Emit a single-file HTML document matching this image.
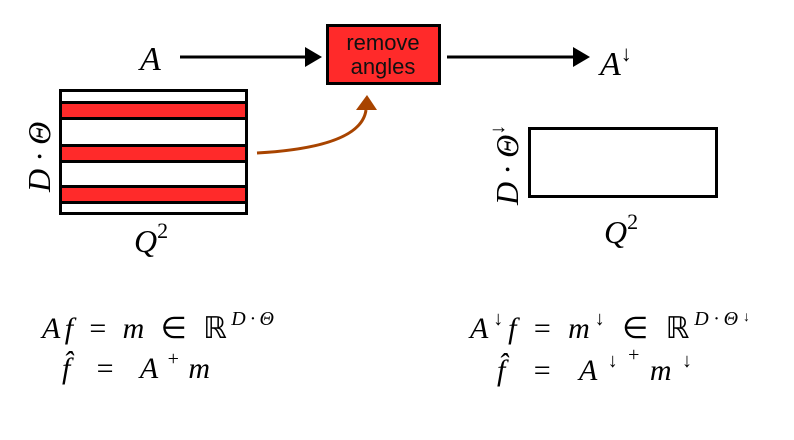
<!DOCTYPE html>
<html><head><meta charset="utf-8"><style>
body{margin:0;background:#fff;width:794px;height:435px;overflow:hidden}
svg text{font-family:"Liberation Serif",serif}
.i{font-style:italic}
</style></head><body>
<svg width="794" height="435" viewBox="0 0 794 435">
<g>
<rect x="60.5" y="90.5" width="186" height="123" fill="#fff" stroke="#000" stroke-width="3"/>
<rect x="60.5" y="102.5" width="186" height="16" fill="#ff2a2a" stroke="#000" stroke-width="3"/>
<rect x="60.5" y="145.5" width="186" height="16" fill="#ff2a2a" stroke="#000" stroke-width="3"/>
<rect x="60.5" y="186.5" width="186" height="16" fill="#ff2a2a" stroke="#000" stroke-width="3"/>
</g>
<text class="i" font-size="32" transform="translate(50,192) rotate(-90)">D · Θ</text>
<text class="i" font-size="32" x="134" y="252">Q<tspan font-size="22" dy="-14" font-style="normal">2</tspan></text>
<text class="i" font-size="34" x="140" y="70">A</text>
<g>
<line x1="180" y1="57" x2="308" y2="57" stroke="#000" stroke-width="3"/>
<polygon points="305,47 322,57 305,67" fill="#000"/>
</g>
<g>
<rect x="327.5" y="25.5" width="112" height="58" fill="#ff2a2a" stroke="#000" stroke-width="3"/>
<text x="383" y="50" font-size="22" text-anchor="middle" style="font-family:'Liberation Sans',sans-serif" fill="#111">remove</text>
<text x="383" y="74" font-size="22" text-anchor="middle" style="font-family:'Liberation Sans',sans-serif" fill="#111">angles</text>
</g>
<g>
<line x1="447" y1="57" x2="575" y2="57" stroke="#000" stroke-width="3"/>
<polygon points="573,47 590,57 573,67" fill="#000"/>
</g>
<text class="i" font-size="34" x="600" y="75">A<tspan font-size="22" dy="-14" font-style="normal">↓</tspan></text>
<g>
<path d="M257,153 C310,150 362,140 366,110" fill="none" stroke="#a84400" stroke-width="3"/>
<polygon points="356,110 367,95 377,110" fill="#a84400"/>
</g>
<rect x="529.5" y="128.5" width="187" height="68" fill="#fff" stroke="#000" stroke-width="3"/>
<text class="i" font-size="32" transform="translate(518,205) rotate(-90)">D · Θ<tspan font-size="20" dy="-14" font-style="normal">↓</tspan></text>
<text class="i" font-size="32" x="604" y="243">Q<tspan font-size="22" dy="-14" font-style="normal">2</tspan></text>
<g font-size="30">
<text x="42" y="338" textLength="232" lengthAdjust="spacing"><tspan class="i">Af</tspan> = <tspan class="i">m</tspan> ∈ ℝ<tspan font-size="20" dy="-13" class="i">D·Θ</tspan></text>
<text x="62" y="378" textLength="148" lengthAdjust="spacing"><tspan class="i">f̂</tspan> = <tspan class="i">A</tspan><tspan font-size="20" dy="-13">+</tspan><tspan dy="13" class="i">m</tspan></text>
</g>
<g font-size="30">
<text x="470" y="338" textLength="280" lengthAdjust="spacing"><tspan class="i">A</tspan><tspan font-size="20" dy="-13">↓</tspan><tspan dy="13" class="i">f</tspan> = <tspan class="i">m</tspan><tspan font-size="20" dy="-13">↓</tspan><tspan dy="13"> ∈ ℝ</tspan><tspan font-size="20" dy="-13" class="i">D·Θ</tspan><tspan font-size="14" dy="-4">↓</tspan></text>
<text x="497" y="380" textLength="195" lengthAdjust="spacing"><tspan class="i">f̂</tspan> = <tspan class="i">A</tspan><tspan font-size="20" dy="-13">↓</tspan><tspan font-size="20" dy="-6">+</tspan><tspan dy="19" class="i">m</tspan><tspan font-size="20" dy="-13">↓</tspan></text>
</g>
</svg>
</body></html>
